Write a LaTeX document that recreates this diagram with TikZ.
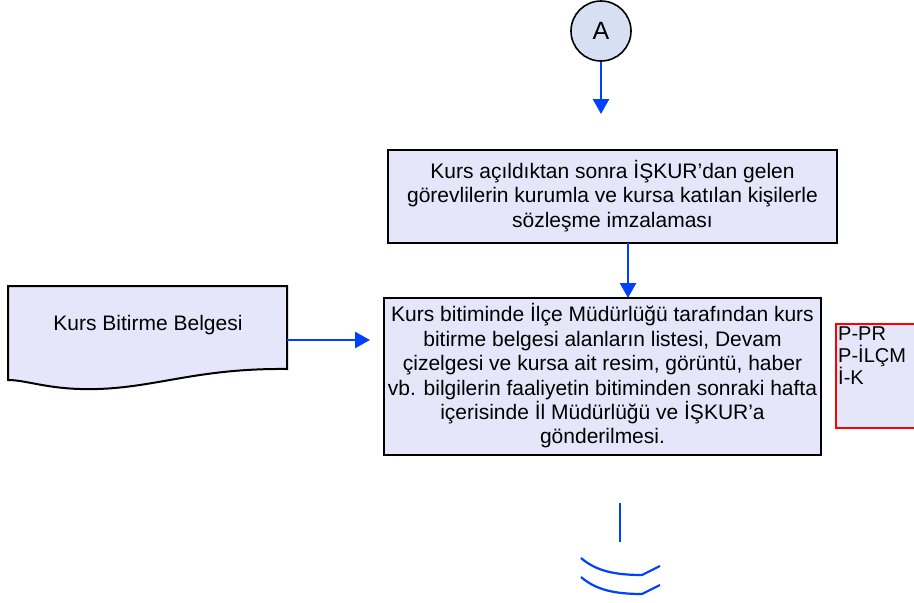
\documentclass[tikz,border=0pt]{standalone}
\usepackage{fontspec}
\setmainfont{Liberation Sans}
\usetikzlibrary{arrows.meta}
\definecolor{flowblue}{RGB}{0,64,255}
\definecolor{boxfill}{RGB}{230,230,250}
\definecolor{circfill}{RGB}{214,224,242}
\tikzset{
  procbox/.style={draw=black, line width=2pt, fill=boxfill, inner sep=0pt},
  flow/.style={draw=flowblue, line width=2.5pt, -{Triangle[length=15pt,width=16pt]}},
  txt/.style={font=\fontsize{21}{24.4}\selectfont, align=center}
}
\begin{document}
\begin{tikzpicture}[x=1pt,y=-1pt]
\useasboundingbox (0,0) rectangle (914,603);
% connector A
\node[circle, draw=black, line width=1.6pt, fill=circfill, minimum size=60pt, inner sep=0pt,
      font=\fontsize{25}{28}\selectfont] (A) at (601,31) {A};
\coordinate (aend) at (601,114);
\draw[flow] (A.south) -- (aend);
% box 1
\draw[procbox] (388,150) rectangle (837,243);
\node[txt] (b1) at (612.5,196) {Kurs açıldıktan sonra İŞKUR’dan gelen\\görevlilerin kurumla ve kursa katılan kişilerle\\sözleşme imzalaması};
\coordinate (b1s) at (628,243);
% box 2
\draw[procbox] (384,298) rectangle (821,455);
\node[txt] (b2) at (602.5,376) {Kurs bitiminde İlçe Müdürlüğü tarafından kurs\\bitirme belgesi alanların listesi, Devam\\çizelgesi ve kursa ait resim, görüntü, haber\\vb. bilgilerin faaliyetin bitiminden sonraki hafta\\içerisinde İl Müdürlüğü ve İŞKUR’a\\gönderilmesi.};
\coordinate (b2n) at (628,298);
\draw[flow] (b1s) -- (b2n);
% red box
\draw[draw=red, line width=1.5pt, fill=boxfill] (836,324) rectangle (916,428);
\node[anchor=north west, inner sep=0pt, align=left, font=\fontsize{20}{22}\selectfont] (codes) at (838,327) {P-PR\\P-İLÇM\\İ-K};
% document shape
\draw[line width=2pt, fill=boxfill] (8,286) -- (287,286) -- (287,369)
  .. controls (190,368) and (150,391) .. (80,389)
  .. controls (45,388) and (25,380) .. (8,380) -- cycle;
\node[txt] (doc) at (148,325) {Kurs Bitirme Belgesi};
\coordinate (docr) at (287,340);
\coordinate (b2w) at (370,340);
\draw[flow] (docr) -- (b2w);
% bottom connector
\coordinate (v1) at (620,503);
\coordinate (v2) at (620,542);
\draw[flowblue, line width=2.2pt] (v1) -- (v2);
\draw[flowblue, line width=2.2pt] (581,558) .. controls (596,571) and (615,575) .. (642,575) -- (660,566);
\draw[flowblue, line width=2.2pt] (581,577) .. controls (596,590) and (615,594) .. (642,594) -- (660,585);
\end{tikzpicture}
\end{document}
